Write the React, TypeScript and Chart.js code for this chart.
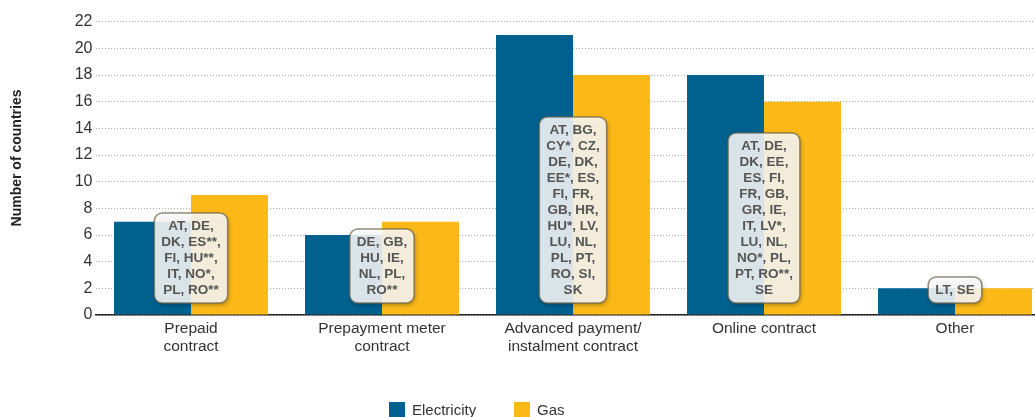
import React, { useEffect, useRef } from "react";
import { Chart, registerables } from "chart.js";

Chart.register(...registerables);

const categories: string[][] = [
  ["Prepaid", "contract"],
  ["Prepayment meter", "contract"],
  ["Advanced payment/", "instalment contract"],
  ["Online contract"],
  ["Other"],
];
const electricity = [7, 6, 21, 18, 2];
const gas = [9, 7, 18, 16, 2];
const countryLines: string[][] = [
  ["AT, DE,", "DK, ES**,", "FI, HU**,", "IT, NO*,", "PL, RO**"],
  ["DE, GB,", "HU, IE,", "NL, PL,", "RO**"],
  ["AT, BG,", "CY*, CZ,", "DE, DK,", "EE*, ES,", "FI, FR,", "GB, HR,", "HU*, LV,", "LU, NL,", "PL, PT,", "RO, SI,", "SK"],
  ["AT, DE,", "DK, EE,", "ES, FI,", "FR, GB,", "GR, IE,", "IT, LV*,", "LU, NL,", "NO*, PL,", "PT, RO**,", "SE"],
  ["LT, SE"],
];
const seriesNames = ["Electricity", "Gas"];
const yTitle = "Number of countries";

const BLUE = "#00618f";
const YELLOW = "#fbb817";
const FONT = "'Liberation Sans', Arial, sans-serif";

const boxPlugin = {
  id: "countryBoxes",
  afterDatasetsDraw(chart: any) {
    const { ctx, scales } = chart;
    const x = scales.x;
    const y = scales.y;
    const bottom = y.getPixelForValue(0) - 12;
    ctx.save();
    ctx.font = `bold 13.5px ${FONT}`;
    countryLines.forEach((lines, i) => {
      const cx = x.getPixelForValue(i);
      const w = Math.max(...lines.map((l) => ctx.measureText(l).width)) + 14;
      const h = 10 + 16 * lines.length;
      const left = cx - w / 2;
      const top = bottom - h;
      ctx.save();
      ctx.shadowColor = "rgba(0,0,0,0.35)";
      ctx.shadowBlur = 4;
      ctx.shadowOffsetX = 1;
      ctx.shadowOffsetY = 2;
      ctx.beginPath();
      ctx.roundRect(left, top, w, h, 8);
      ctx.fillStyle = "rgba(255,255,255,0.85)";
      ctx.fill();
      ctx.restore();
      ctx.beginPath();
      ctx.roundRect(left, top, w, h, 8);
      ctx.lineWidth = 1.5;
      ctx.strokeStyle = "rgba(110,100,80,0.75)";
      ctx.stroke();
      ctx.fillStyle = "#555555";
      ctx.textAlign = "center";
      ctx.textBaseline = "middle";
      lines.forEach((l, j) => {
        ctx.fillText(l, cx, top + 13.5 + 16 * j);
      });
    });
    ctx.restore();
  },
  afterDraw(chart: any) {
    const { ctx } = chart;
    ctx.save();
    ctx.translate(17, 158);
    ctx.rotate(-Math.PI / 2);
    ctx.font = `bold 14px ${FONT}`;
    ctx.fillStyle = "#222222";
    ctx.textAlign = "center";
    ctx.textBaseline = "middle";
    ctx.fillText(yTitle, 0, 0);
    ctx.restore();
  },
};

export default function App() {
  const ref = useRef<HTMLCanvasElement | null>(null);
  useEffect(() => {
    if (!ref.current) return;
    const chart = new Chart(ref.current, {
      type: "bar",
      data: {
        labels: categories,
        datasets: [
          { label: seriesNames[0], data: electricity, backgroundColor: BLUE, borderWidth: 0, categoryPercentage: 0.806, barPercentage: 1.0 },
          { label: seriesNames[1], data: gas, backgroundColor: YELLOW, borderWidth: 0, categoryPercentage: 0.806, barPercentage: 1.0 },
        ],
      },
      options: {
        responsive: false,
        animation: false,
        layout: { padding: { top: 21.7, right: 0.5, left: 0, bottom: 0 } },
        plugins: { legend: { display: false }, tooltip: { enabled: false } },
        scales: {
          x: {
            grid: { display: false, drawTicks: false },
            border: { display: true, color: "#222222", width: 1.5 },
            ticks: { color: "#333333", font: { family: FONT, size: 15.5, lineHeight: 1.16 }, padding: 5, maxRotation: 0, autoSkip: false },
            afterFit: (s: any) => { s.height = 102; },
          },
          y: {
            min: 0,
            max: 22,
            ticks: { stepSize: 2, color: "#333333", font: { family: FONT, size: 16 }, padding: 3 },
            grid: { color: "#aaaaaa", lineWidth: 1, drawTicks: false },
            border: { display: false, dash: [1, 2] },
            afterFit: (s: any) => { s.width = 95.5; },
          },
        },
      },
      plugins: [boxPlugin],
    });
    return () => chart.destroy();
  }, []);

  const legendText: React.CSSProperties = { position: "absolute", top: 402, font: `15px ${FONT}`, lineHeight: "15px", color: "#333333", whiteSpace: "nowrap" };
  return (
    <div style={{ position: "absolute", left: 0, top: 0, width: 1035, height: 417, overflow: "hidden", background: "#ffffff" }}>
      <canvas ref={ref} width={1051} height={417} style={{ position: "absolute", left: 0, top: 0 }} />
      <div style={{ position: "absolute", left: 389, top: 402, width: 16, height: 16, background: BLUE }} />
      <div style={{ ...legendText, left: 412 }}>{seriesNames[0]}</div>
      <div style={{ position: "absolute", left: 514, top: 402, width: 16, height: 16, background: YELLOW }} />
      <div style={{ ...legendText, left: 537 }}>{seriesNames[1]}</div>
    </div>
  );
}
